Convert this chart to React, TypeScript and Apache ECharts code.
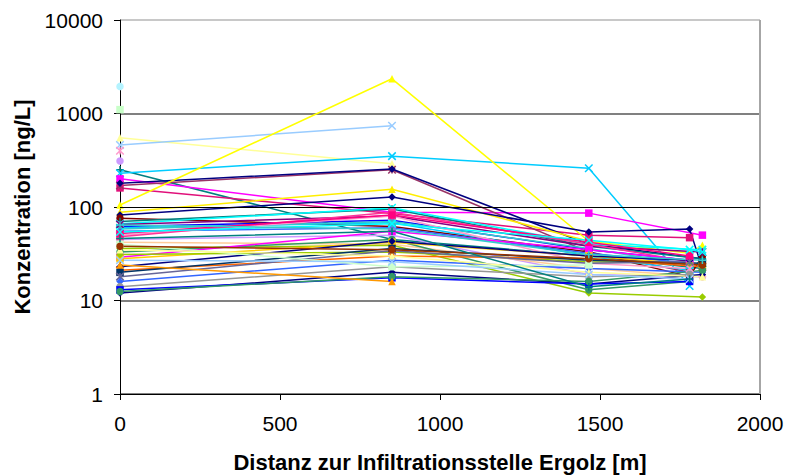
import React, { useEffect, useRef } from "react";
import * as echarts from "echarts";

// Distances (x) in metres
const distances = [0, 850, 1465, 1780, 1820];

// Concentration per series at the distances above (ng/L), null = no value
const s01 = [1950, null, null, null, null];
const s02 = [1100, null, null, null, null];
const s03 = [550, 290, null, null, null];
const s04 = [460, 740, null, null, null];
const s05 = [400, null, null, null, null];
const s06 = [310, null, null, null, null];
const s07 = [250, 45, 30, null, 22];
const s08 = [230, 350, 260, 14.3, null];
const s09 = [200, 88, 86, null, 50];
const s10 = [160, 85, 50, 47, null];
const s11 = [170, 250, 33, 20, null];
const s12 = [180, 255, 40, null, 28];
const s13 = [105, 2350, 43, 32, 39];
const s14 = [88, 155, 43, null, null];
const s15 = [82, 128, 54, 58, 22];
const s16 = [76, 62, 33, 18, 30];
const s17 = [70, 95, 38, null, 28];
const s18 = [66, 98, 40, null, 35];
const s19 = [62, 72, 35, 27, null];
const s20 = [60, 68, 30, 21, null];
const s21 = [58, 70, 36, 24, 25];
const s22 = [65, 80, 38, null, 33];
const s23 = [55, 60, 32, 25, null];
const s24 = [50, 80, 25, 22, null];
const s25 = [45, 50, 19, null, 18];
const s26 = [42, 40, 22, null, 18];
const s27 = [48, 88, 40, 26, null];
const s28 = [36, 39, 12, null, 10.9];
const s29 = [33, 45, 13, 16, null];
const s30 = [29, 55, 35, 27, null];
const s31 = [28, 42, 30, null, 24];
const s32 = [31, 33, 26, 25, null];
const s33 = [21, 30, 28, null, 23];
const s34 = [23, 43, 30, 27, null];
const s35 = [20, 36, 27, null, 25];
const s36 = [18, 34, 25, 26, null];
const s37 = [16, 27, 22, null, 20];
const s38 = [14, 23, 18, 19, null];
const s39 = [12, 20, 15, null, 19];
const s40 = [13, 17.5, 15, 16, null];
const s41 = [12.5, 18, 16, null, 21];
const s42 = [24, 16, null, null, null];
const s43 = [40, 23, 24, null, null];
const s44 = [35, 30, 20, null, 18];
const s45 = [27, 26, 19, 17, null];
const s46 = [38, 35, 28, null, 24];
const s47 = [52, 82, 42, 30, null];
const s48 = [54, 66, 44, 35, 33];
const s49 = [64, 58, 31, null, 27];
const s50 = [46, 55, 14, 17, null];

const seriesValues = [
  s01, s02, s03, s04, s05, s06, s07, s08, s09, s10,
  s11, s12, s13, s14, s15, s16, s17, s18, s19, s20,
  s21, s22, s23, s24, s25, s26, s27, s28, s29, s30,
  s31, s32, s33, s34, s35, s36, s37, s38, s39, s40,
  s41, s42, s43, s44, s45, s46, s47, s48, s49, s50,
];

// Threshold line
const thresholdValue = 100;

const xTicks = [0, 500, 1000, 1500, 2000];
const yTicks = [1, 10, 100, 1000, 10000];

// Styles
const seriesColors = [
  "#b4f3ff", "#c8ffc8", "#ffff99", "#99ccff", "#ff99cc", "#cc99ff", "#008080", "#00ccff", "#ff00ff", "#e0107a",
  "#993366", "#000080", "#ffff00", "#ffee00", "#000080", "#800000", "#008080", "#00ffff", "#0000ff", "#00ccff",
  "#33cccc", "#800080", "#3366ff", "#ff99cc", "#cc99ff", "#ffcc99", "#ff3399", "#99cc00", "#339966", "#ff00ff",
  "#ffcc00", "#99cc00", "#ff6600", "#000080", "#003366", "#666699", "#3366ff", "#969696", "#000080", "#0000ff",
  "#339966", "#ff9900", "#ccffcc", "#ffff99", "#99ccff", "#993300", "#ff0080", "#00ffff", "#33cccc", "#008080",
];

const X = "path://M0,0L10,10M10,0L0,10";
const STAR = "path://M0,0L10,10M10,0L0,10M5,0L5,10";
const PLUS = "path://M5,0L5,10M0,5L10,5";

const seriesMarkers = [
  "circle", "rect", "triangle", X, STAR, "circle", PLUS, X, "rect", "rect",
  STAR, "diamond", "triangle", "triangle", "diamond", "circle", PLUS, X, "diamond", X,
  X, STAR, "diamond", STAR, "circle", PLUS, "rect", "diamond", "circle", "rect",
  "rect", "diamond", STAR, "diamond", "rect", STAR, "diamond", "circle", "diamond", "rect",
  "circle", "triangle", "rect", "triangle", X, "circle", "rect", X, PLUS, PLUS,
];

const FONT = "'Liberation Sans', Arial, sans-serif";

export default function App() {
  const ref = useRef<HTMLDivElement>(null);

  useEffect(() => {
    if (!ref.current) return;
    const chart = echarts.init(ref.current, undefined, { renderer: "svg" });

    const series: any[] = seriesValues.map((vals, i) => {
      const data = distances
        .map((d, j) => (vals[j] == null ? null : [d, vals[j]]))
        .filter((p) => p !== null);
      const sym = seriesMarkers[i];
      const isPath = typeof sym === "string" && sym.startsWith("path://");
      return {
        name: "Serie " + (i + 1),
        type: "line",
        data,
        symbol: sym,
        symbolSize: 7.5,
        showSymbol: true,
        clip: false,
        lineStyle: { color: seriesColors[i], width: 1.5 },
        itemStyle: {
          color: seriesColors[i],
          borderColor: seriesColors[i],
          borderWidth: isPath ? 1.5 : 0,
        },
        emphasis: { disabled: true },
        z: 3,
      };
    });

    series.push({
      name: "Grenzwert",
      type: "line",
      data: [],
      silent: true,
      z: 2,
      markLine: {
        silent: true,
        symbol: "none",
        label: { show: false },
        lineStyle: { color: "#000000", width: 1, type: "solid" },
        data: [{ yAxis: thresholdValue }],
      },
    });

    chart.setOption({
      animation: false,
      backgroundColor: "#ffffff",
      grid: {
        left: 120,
        right: 27,
        top: 20,
        bottom: 82,
        containLabel: false,
        outerBoundsMode: "none",
      },
      xAxis: {
        type: "value",
        min: xTicks[0],
        max: xTicks[xTicks.length - 1],
        interval: 500,
        name: "Distanz zur Infiltrationsstelle Ergolz [m]",
        nameLocation: "middle",
        nameGap: 57,
        nameTextStyle: { fontFamily: FONT, fontSize: 22, fontWeight: "bold", color: "#000" },
        axisLine: { show: true, lineStyle: { color: "#000", width: 1 } },
        axisTick: { show: true, length: 6, lineStyle: { color: "#000" } },
        axisLabel: {
          fontFamily: FONT,
          fontSize: 21,
          color: "#000",
          margin: 19,
          formatter: (v: number) => String(v),
        },
        splitLine: {
          show: true,
          lineStyle: {
            color: ["rgba(0,0,0,0)", "rgba(0,0,0,0)", "rgba(0,0,0,0)", "rgba(0,0,0,0)", "#a6a6a6"],
            width: 2,
          },
        },
      },
      yAxis: {
        type: "log",
        logBase: 10,
        min: yTicks[0],
        max: yTicks[yTicks.length - 1],
        name: "Konzentration [ng/L]",
        nameLocation: "middle",
        nameGap: 86,
        nameTextStyle: { fontFamily: FONT, fontSize: 22, fontWeight: "bold", color: "#000" },
        axisLine: { show: true, lineStyle: { color: "#000", width: 1 } },
        axisTick: { show: true, length: 6, lineStyle: { color: "#000" } },
        axisLabel: {
          fontFamily: FONT,
          fontSize: 21,
          color: "#000",
          margin: 17,
          formatter: (v: number) => String(v),
        },
        splitLine: {
          show: true,
          lineStyle: {
            color: ["#808080", "#808080", "rgba(0,0,0,0)", "#808080", "#c8c8c8"],
            width: 2,
          },
        },
      },
      series,
    });

    return () => chart.dispose();
  }, []);

  return (
    <div
      ref={ref}
      style={{ position: "absolute", left: 0, top: 0, width: 787, height: 476 }}
    />
  );
}
